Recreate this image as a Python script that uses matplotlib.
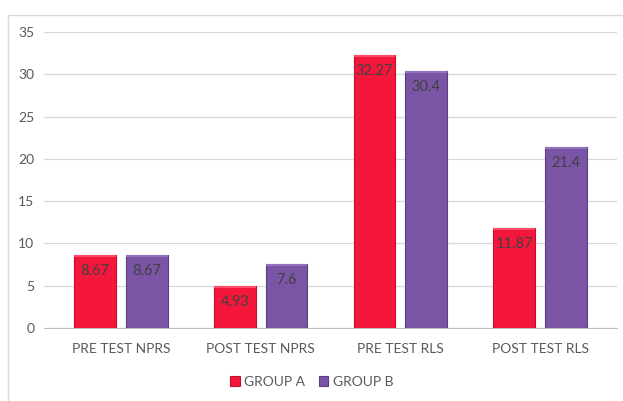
import numpy as np
import matplotlib.pyplot as plt
from matplotlib.patches import Rectangle

# Data
categories = ["PRE TEST NPRS", "POST TEST NPRS", "PRE TEST RLS", "POST TEST RLS"]
group_a = [8.67, 4.93, 32.27, 11.87]
group_b = [8.67, 7.6, 30.4, 21.4]
labels_a = ["8.67", "4.93", "32.27", "11.87"]
labels_b = ["8.67", "7.6", "30.4", "21.4"]

plt.rcParams['font.family'] = ['Lato', 'DejaVu Sans']

fig = plt.figure(figsize=(6.23, 4.01), dpi=100)
ax = fig.add_axes([44/623, 1-328/401, (617-44)/623, (328-32)/401])

# outer chart frame
fig.patches.append(Rectangle((8/623, -0.01), 1.0, 1-15/401+0.01, transform=fig.transFigure,
                             fill=False, edgecolor='#d9d9d9', linewidth=1.0))

x = np.arange(len(categories))
w = 0.30
gap = 0.035
red = '#f5163c'
purple = '#7a55a6'

bars_a = ax.bar(x - w/2 - gap, group_a, w, color=red, edgecolor='#c0102e', linewidth=0.8, label='GROUP A', zorder=3)
bars_b = ax.bar(x + w/2 + gap, group_b, w, color=purple, edgecolor='#5a3f7e', linewidth=0.8, label='GROUP B', zorder=3)

# subtle bevel on top of bars
for bars, c in ((bars_a, '#ff4d6a'), (bars_b, '#9474bf')):
    for b in bars:
        ax.add_patch(Rectangle((b.get_x(), b.get_height() - 0.25), b.get_width(), 0.25,
                               color=c, zorder=4, linewidth=0))

for bars, labs in ((bars_a, labels_a), (bars_b, labels_b)):
    for b, t in zip(bars, labs):
        ax.text(b.get_x() + b.get_width()/2, b.get_height() - 1.9, t, ha='center', va='center',
                fontsize=10.5, color='#404040', zorder=5)

ax.set_ylim(0, 35)
ax.set_xlim(-0.55, 3.55)
ax.set_yticks(range(0, 36, 5))
ax.set_xticks(x)
ax.set_xticklabels(categories)
ax.grid(axis='y', color='#d9d9d9', linewidth=0.9, zorder=0)
for s in ['top', 'right', 'left']:
    ax.spines[s].set_visible(False)
ax.spines['bottom'].set_color('#bfbfbf')
ax.tick_params(axis='both', length=0, colors='#595959', labelsize=10)
ax.tick_params(axis='x', pad=11)
ax.tick_params(axis='y', pad=7)

fig.legend(handles=[bars_a, bars_b], loc='center', bbox_to_anchor=(0.5, 1-382/401), ncol=2,
           frameon=False, fontsize=10, labelcolor='#595959', handlelength=0.7, handleheight=0.7,
           handletextpad=0.3, columnspacing=1.0)

fig.savefig('out.png', dpi=100)
